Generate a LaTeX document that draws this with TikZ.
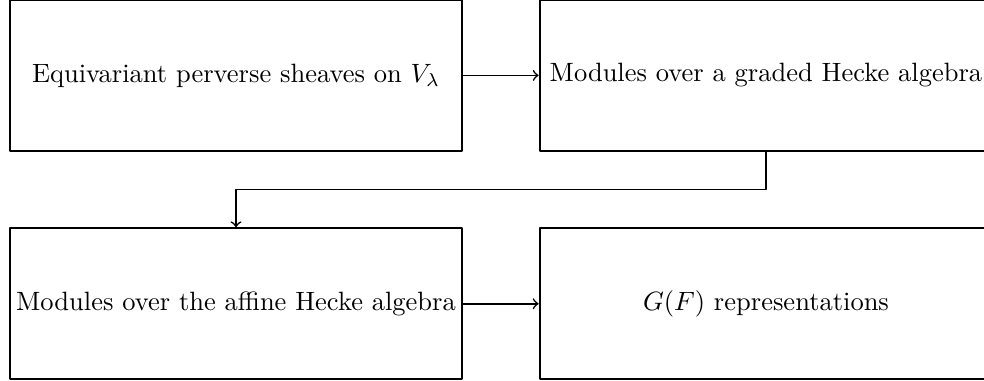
\documentclass[tikz,border=0pt]{standalone}
\usetikzlibrary{positioning}
\begin{document}
\begin{tikzpicture}[>=to,line join=bevel,
    box/.style={draw,minimum width=6cm,minimum height=2cm,inner sep=1pt},
    edge/.style={->,line width=0.6pt},
    node distance=1cm and 1cm]
      \pgfsetlinewidth{0.8pt}
      \useasboundingbox (-3.13,1.0) rectangle (9.92,-4.05);
      % Node: equi
      \node[box] (equi) at (0,0) {Equivariant perverse sheaves on $V_\lambda$};
      % Node: graded
      \node[box,right=of equi] (graded) {Modules over a graded Hecke algebra};
      % Node: affine
      \node[box,below=of equi] (affine) {Modules over the affine Hecke algebra};
      % Node: rep
      \node[box,right=of affine] (rep) {$G(F)$ representations};
      % Edge: equi -> graded
      \draw [edge] (equi) -- (graded);
      % Edge: graded -> affine
      \draw [edge] (graded.south) -- ++(0,-0.5) -| (affine.north);
      % Edge: affine -> rep
      \draw [edge] (affine) -- (rep);
\end{tikzpicture}
\end{document}
